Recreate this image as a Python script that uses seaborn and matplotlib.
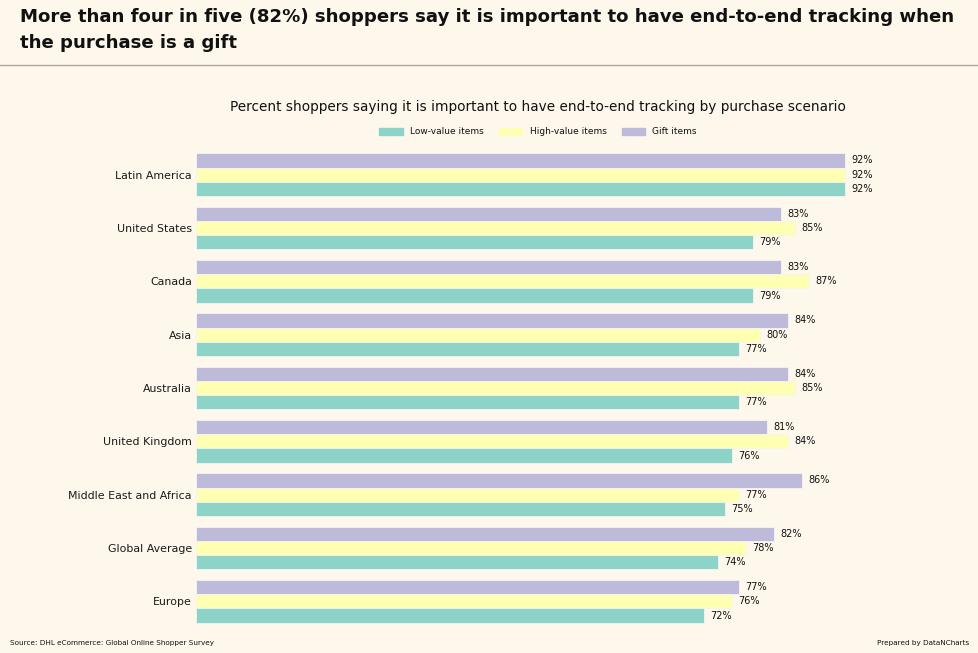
import numpy as np
import pandas as pd
import matplotlib
matplotlib.use("Agg")
import matplotlib.pyplot as plt
import seaborn as sns
from matplotlib.lines import Line2D

# data
regions = ["Latin America", "United States", "Canada", "Asia", "Australia",
           "United Kingdom", "Middle East and Africa", "Global Average", "Europe"]
low_value = [92, 79, 79, 77, 77, 76, 75, 74, 72]
high_value = [92, 85, 87, 80, 85, 84, 77, 78, 76]
gift = [92, 83, 83, 84, 84, 81, 86, 82, 77]
series = ["Low-value items", "High-value items", "Gift items"]
colors = {"Low-value items": "#8dd3c7", "High-value items": "#ffffb3", "Gift items": "#bebada"}

bg = "#fef8ec"

df = pd.DataFrame({
    "region": regions * 3,
    "scenario": [series[0]] * 9 + [series[1]] * 9 + [series[2]] * 9,
    "value": low_value + high_value + gift,
})

sns.set_style("white")
plt.rcParams["font.family"] = ["DejaVu Sans"]
plt.rcParams["text.color"] = "#111111"
plt.rcParams["ytick.color"] = "#1a1a1a"

fig = plt.figure(figsize=(9.79, 6.53), dpi=100, facecolor=bg)
ax = fig.add_axes([196 / 979, 1 - 628 / 653, (880 - 196) / 979, (628 - 148) / 653])
ax.set_facecolor(bg)

# gift on top within each group, so hue order is reversed
sns.barplot(data=df, y="region", x="value", hue="scenario",
            hue_order=series[::-1], order=regions, palette=colors,
            orient="h", width=0.8, saturation=1, linewidth=0.6, edgecolor="#f4f4f4",
            ax=ax, legend=False)

for c in ax.containers:
    ax.bar_label(c, labels=[f"{v:.0f}%" for v in c.datavalues], padding=4.5, fontsize=7)

ax.set_xlim(0, 97)
ax.set_xlabel("")
ax.set_ylabel("")
ax.set_xticks([])
ax.tick_params(axis="y", length=0, labelsize=7.9, pad=3)
sns.despine(ax=ax, left=True, bottom=True)

fig.text(538 / 979, 1 - 107 / 653,
         "Percent shoppers saying it is important to have end-to-end tracking by purchase scenario",
         fontsize=9.8, ha="center", va="center")

handles = [plt.Rectangle((0, 0), 1, 1, color=colors[s]) for s in series]
fig.legend(handles, series, loc="center", bbox_to_anchor=(538 / 979, 1 - 132 / 653), ncol=3,
           frameon=False, fontsize=6.5, handlelength=2.6, handleheight=0.9, columnspacing=1.7)

fig.text(20 / 979, 1 - 8 / 653, "More than four in five (82%) shoppers say it is important to have end-to-end tracking when\nthe purchase is a gift",
         fontsize=13.1, fontweight="bold", va="top", ha="left", linespacing=1.55)
fig.add_artist(Line2D([0, 1], [1 - 65 / 653, 1 - 65 / 653], color="#a8a49c", lw=1))

fig.text(10 / 979, 1 - 643 / 653, "Source: DHL eCommerce: Global Online Shopper Survey", fontsize=5.2, va="center")
fig.text(969 / 979, 1 - 643 / 653, "Prepared by DataNCharts", fontsize=5.2, va="center", ha="right")

fig.savefig("out.png", dpi=100, facecolor=bg)
